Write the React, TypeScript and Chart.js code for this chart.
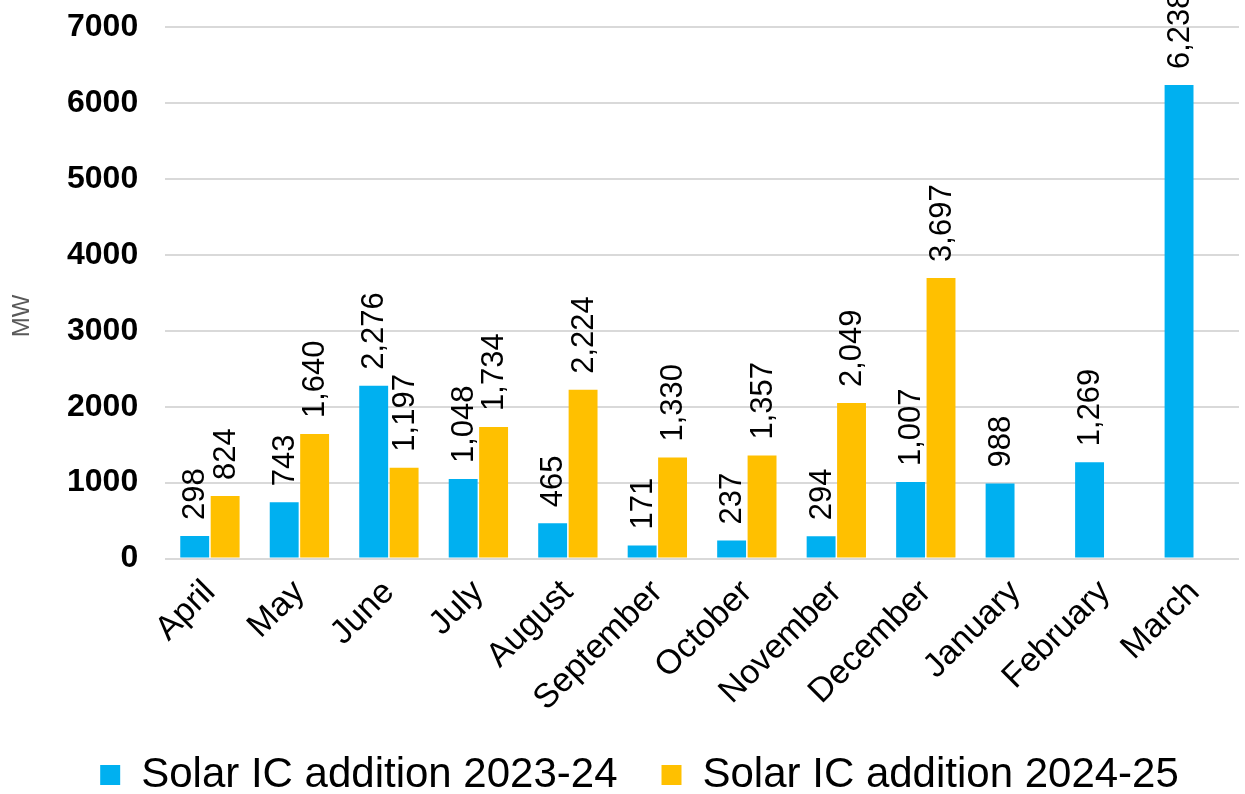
import React, { useEffect, useRef } from "react";
import { Chart, registerables } from "chart.js";

Chart.register(...registerables);

const categories = ["April", "May", "June", "July", "August", "September", "October", "November", "December", "January", "February", "March"];
const series2023 = [298, 743, 2276, 1048, 465, 171, 237, 294, 1007, 988, 1269, 6238];
const series2024: (number | null)[] = [824, 1640, 1197, 1734, 2224, 1330, 1357, 2049, 3697, null, null, null];
const seriesNames = ["Solar IC addition 2023-24", "Solar IC addition 2024-25"];
const yTicks = [0, 1000, 2000, 3000, 4000, 5000, 6000, 7000];
const axisTitle = "MW";

const FONT = "'Liberation Sans', Arial, sans-serif";
const SHIFT = 19;
const W = 1245;
const H = 804 + SHIFT;

const labelPlugin = {
  id: "barLabels",
  afterDatasetsDraw(chart: any) {
    const ctx = chart.ctx;
    ctx.save();
    ctx.font = `31px ${FONT}`;
    ctx.fillStyle = "#000";
    ctx.textAlign = "left";
    ctx.textBaseline = "middle";
    chart.data.datasets.forEach((ds: any, di: number) => {
      const meta = chart.getDatasetMeta(di);
      meta.data.forEach((el: any, i: number) => {
        const v = ds.data[i];
        if (v === null || v === undefined) return;
        ctx.save();
        ctx.translate(el.x, el.y - 16);
        ctx.rotate(-Math.PI / 2);
        ctx.fillText(Number(v).toLocaleString("en-US"), 0, 1);
        ctx.restore();
      });
    });
    const area = chart.chartArea;
    ctx.font = `24px ${FONT}`;
    ctx.fillStyle = "#595959";
    ctx.textAlign = "center";
    ctx.translate(22, (area.top + area.bottom) / 2 + 23);
    ctx.rotate(-Math.PI / 2);
    ctx.fillText(axisTitle, 0, 0);
    ctx.restore();
  },
};

export default function App() {
  const ref = useRef<HTMLCanvasElement>(null);
  useEffect(() => {
    document.body.style.margin = "0";
    const chart = new Chart(ref.current!, {
      type: "bar",
      data: {
        labels: categories,
        datasets: [
          {
            label: seriesNames[0],
            data: series2023,
            backgroundColor: "#00B0F0",
            categoryPercentage: 0.68,
            barPercentage: 0.95,
          },
          {
            label: seriesNames[1],
            data: series2024,
            backgroundColor: "#FFC000",
            categoryPercentage: 0.68,
            barPercentage: 0.95,
          },
        ],
      },
      options: {
        animation: false,
        responsive: false,
        maintainAspectRatio: false,
        layout: { padding: { top: -9, right: 6, left: 40, bottom: -2 } },
        plugins: {
          tooltip: { enabled: false },
          legend: {
            position: "bottom",
            labels: {
              font: { family: FONT, size: 42 },
              color: "#000",
              boxWidth: 20,
              boxHeight: 20,
              padding: 44,
            },
          },
        },
        scales: {
          x: {
            grid: { display: false, drawTicks: false },
            border: { display: false },
            afterFit: (scale: any) => {
              scale.height -= 23;
            },
            ticks: {
              font: { family: FONT, size: 34 },
              color: "#000",
              maxRotation: 45,
              minRotation: 45,
              padding: 14,
              autoSkip: false,
            },
          },
          y: {
            min: 0,
            max: 7000,
            afterBuildTicks: (axis: any) => {
              axis.ticks = yTicks.map((v) => ({ value: v }));
            },
            grid: { color: "#d9d9d9", lineWidth: 2, drawTicks: false },
            border: { display: false },
            ticks: {
              font: { family: FONT, size: 32, weight: "bold" },
              color: "#000",
              padding: 27,
              callback: (v: any) => String(v),
            },
          },
        },
      },
      plugins: [labelPlugin],
    } as any);
    return () => chart.destroy();
  }, []);
  return (
    <div style={{ width: W, height: 794, overflow: "hidden", position: "relative" }}>
      <canvas
        ref={ref}
        width={W}
        height={H}
        style={{ display: "block", position: "absolute", left: 0, top: -SHIFT }}
      />
    </div>
  );
}
